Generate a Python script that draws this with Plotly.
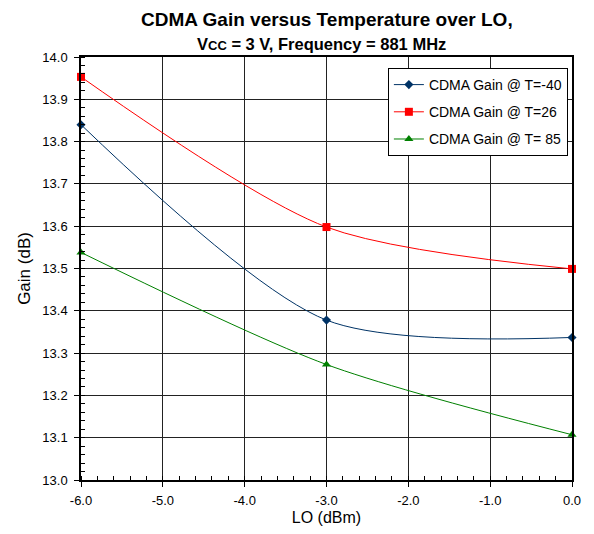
import plotly.graph_objects as go

lo = [-6.0, -3.0, 0.0]
gain_m40 = [13.84, 13.378, 13.337]
gain_26 = [13.953, 13.598, 13.499]
gain_85 = [13.538, 13.273, 13.107]
names = ["CDMA Gain @ T=-40", "CDMA Gain @ T=26", "CDMA Gain @ T= 85"]
colors = ["#003366", "#ff0000", "#008000"]
symbols = ["diamond", "square", "triangle-up"]
sizes = [7, 8, 8]
x_ticks = [-6, -5, -4, -3, -2, -1, 0]
x_labels = ["-6.0", "-5.0", "-4.0", "-3.0", "-2.0", "-1.0", "0.0"]

fig = go.Figure()
for y, n, c, s, sz in zip([gain_m40, gain_26, gain_85], names, colors, symbols, sizes):
    fig.add_trace(go.Scatter(x=lo, y=y, name=n, legendgroup=n, mode="lines+markers",
                             line=dict(color=c, width=1, shape="spline", smoothing=0.8),
                             marker=dict(symbol=s, color=c, size=sz),
                             cliponaxis=False))

font = "Liberation Sans, Arial, sans-serif"
W, H = 578, 518
L, R, T, B = 73, 14, 49, 46
ph = H - T - B
fig.update_layout(
    width=W, height=H,
    margin=dict(l=L, r=R, t=T, b=B, autoexpand=False),
    paper_bgcolor="white", plot_bgcolor="white",
    font=dict(family=font, size=13, color="black"),
    showlegend=True,
    legend=dict(x=0.625, y=0.974, xanchor="left", yanchor="top",
                bgcolor="white", bordercolor="black", borderwidth=1,
                font=dict(size=14), itemwidth=30, tracegroupgap=6),
    annotations=[
        dict(text="<b>CDMA Gain versus Temperature over LO,</b>", xref="paper", yref="paper",
             x=0.5, y=1 + (T - 11) / ph, xanchor="center", yanchor="middle",
             showarrow=False, font=dict(size=19)),
        dict(text="<b>V<span style='font-size:13px'>CC</span> = 3 V, Frequency = 881 MHz</b>", xref="paper", yref="paper",
             x=0.49, y=1 + (T - 36) / ph, xanchor="center", yanchor="middle",
             showarrow=False, font=dict(size=16.5)),
    ],
)
fig.update_xaxes(range=[-6, 0], tickvals=x_ticks, ticktext=x_labels, showgrid=True,
                 gridcolor="#222222", gridwidth=1, showline=True, linecolor="black",
                 linewidth=1.5, mirror=True, ticks="outside", ticklen=5, tickcolor="black",
                 minor=dict(dtick=0.2, ticks="inside", ticklen=4, tickcolor="black", showgrid=False),
                 zeroline=False, automargin=False, ticklabelstandoff=3,
                 title=dict(text="LO (dBm)", font=dict(size=16), standoff=9),
                 tickfont=dict(size=13))
fig.update_yaxes(range=[13.0, 14.0], dtick=0.1, tickformat=".1f", showgrid=True,
                 gridcolor="#222222", gridwidth=1, showline=True, linecolor="black",
                 linewidth=1.5, mirror=True, ticks="outside", ticklen=5, tickcolor="black",
                 minor=dict(dtick=0.02, ticks="inside", ticklen=4, tickcolor="black", showgrid=False),
                 zeroline=False, automargin=False, ticklabelstandoff=4,
                 title=dict(text="Gain (dB)", font=dict(size=17), standoff=7),
                 tickfont=dict(size=13))

fig.write_html("out.html")
